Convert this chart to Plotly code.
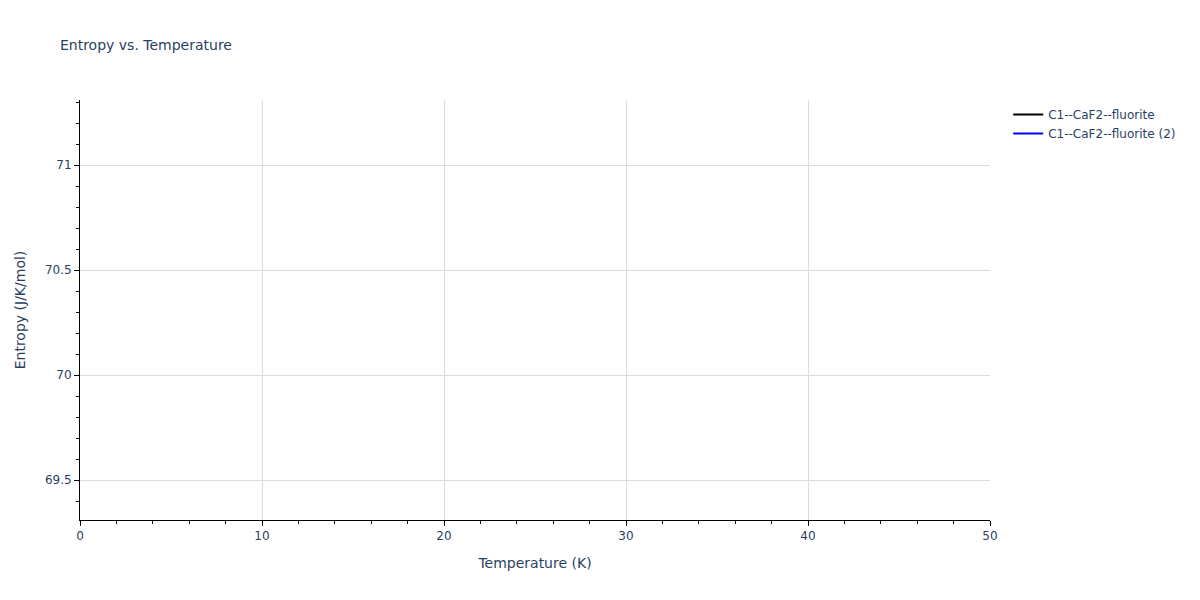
import plotly.graph_objects as go

# Data: each trace holds a single point, so no line segment appears in view
temperature_1 = [300]
entropy_1 = [70.31]
temperature_2 = [300]
entropy_2 = [70.31]

fig = go.Figure()
fig.add_trace(go.Scatter(x=temperature_1, y=entropy_1, mode="lines",
                         name="C1--CaF2--fluorite", line=dict(color="black")))
fig.add_trace(go.Scatter(x=temperature_2, y=entropy_2, mode="lines",
                         name="C1--CaF2--fluorite (2)", line=dict(color="blue")))

axis_style = dict(showline=True, linecolor="black", ticks="outside",
                  tickcolor="black", showgrid=True, gridcolor="#dcdcdc",
                  zeroline=False)

fig.update_layout(
    template="plotly_white",
    font=dict(family="DejaVu Sans", size=12, color="#2a3f5f"),
    title=dict(text="Entropy vs. Temperature", x=0.0433, y=0.947,
               font=dict(size=14)),
    width=1200, height=600,
    margin=dict(l=72, r=218, t=92, b=88),
    legend=dict(x=1.02, y=1),
    xaxis=dict(title="Temperature (K)", range=[0, 50], dtick=10,
               minor=dict(ticks="outside", dtick=2, tickcolor="black"),
               **axis_style),
    yaxis=dict(title="Entropy (J/K/mol)", range=[69.31, 71.31], dtick=0.5,
               minor=dict(ticks="outside", dtick=0.1, tickcolor="black"),
               **axis_style),
)

fig.write_html("out.html")
